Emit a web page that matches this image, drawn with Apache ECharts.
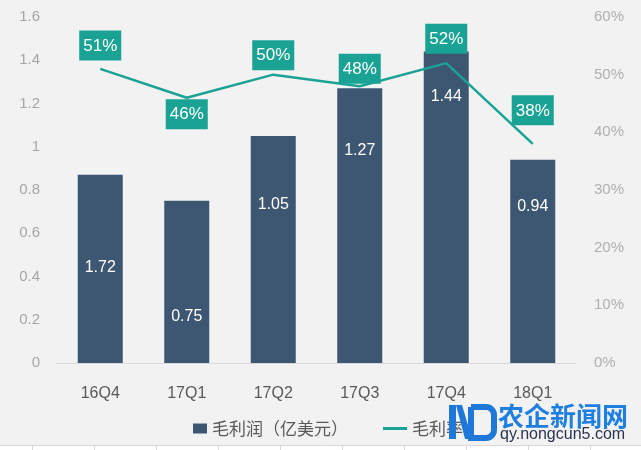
<!DOCTYPE html>
<html>
<head>
<meta charset="utf-8">
<script src="https://cdn.jsdelivr.net/npm/echarts@6/dist/echarts.min.js"></script>
<style>
html,body{margin:0;padding:0;background:#f2f2f2;}
#chart{width:641px;height:450px;}
</style>
</head>
<body>
<div id="chart"></div>
<script>
// ---- data ----
const categories = ['16Q4', '17Q1', '17Q2', '17Q3', '17Q4', '18Q1'];
const grossProfit = [0.87, 0.75, 1.05, 1.27, 1.44, 0.94];          // bar heights (亿美元)
const grossProfitLabels = ['1.72', '0.75', '1.05', '1.27', '1.44', '0.94']; // labels as printed
const grossMargin = [0.51, 0.46, 0.50, 0.48, 0.52, 0.38];
const marginLabels = ['51%', '46%', '50%', '48%', '52%', '38%'];
const leftTicks = { min: 0, max: 1.6, interval: 0.2 };
const rightTicks = { min: 0, max: 0.6, interval: 0.1 };
const barName = '毛利润（亿美元）';
const lineName = '毛利率';

// ---- styling (label placement tweaks as in the original) ----
const barLabelDist = [85, 108, 61, 54, 37, 39];
const lineLabelPos = ['top', 'bottom', 'top', 'top', 'top', 'top'];
const lineLabelDist = [8, 1, 4, 2, 9, 18];

const BAR = '#3d5672';
const TEAL = '#1aa394';
const CN = '"Noto Sans CJK SC", "Liberation Sans", sans-serif';
const NUM = '"Liberation Sans", Arial, sans-serif';

const chart = echarts.init(document.getElementById('chart'), null, {renderer: 'canvas'});

const barData = grossProfit.map((v, i) => ({
  value: v,
  label: { distance: barLabelDist[i], formatter: grossProfitLabels[i] }
}));
const lineData = grossMargin.map((v, i) => ({
  value: v,
  label: { position: lineLabelPos[i], distance: lineLabelDist[i], formatter: marginLabels[i] }
}));

// bottom spreadsheet grid lines
const gridLines = [{
  type: 'rect', silent: true, z: 0,
  shape: {x: 0, y: 445, width: 641, height: 5},
  style: {fill: '#ffffff'}
}, {
  type: 'line', silent: true, z: 0,
  shape: {x1: 0, y1: 445.5, x2: 641, y2: 445.5},
  style: {stroke: '#d9d9d9', lineWidth: 1}
}];
for (let x = 32; x < 641; x += 62) {
  gridLines.push({
    type: 'line', silent: true, z: 0,
    shape: {x1: x + 0.5, y1: 445, x2: x + 0.5, y2: 450},
    style: {stroke: '#d9d9d9', lineWidth: 1}
  });
}

const logo = [
  { type: 'polygon', z: 100, shape: {points: [[449,405],[456,405],[456,439],[449,439]]}, style: {fill: '#1e78d8'} },
  { type: 'polygon', z: 100, shape: {points: [[456,405],[462,405],[470,432],[470,439],[465,439]]}, style: {fill: '#1e78d8'} },
  { type: 'rect', z: 100, shape: {x: 471, y: 407, width: 23, height: 31, r: [0, 8, 8, 0]}, style: {fill: 'none', stroke: '#1e78d8', lineWidth: 6} },
  { type: 'text', z: 100, style: {x: 498, y: 403, text: '农企新闻网', font: 'bold 26px "Noto Sans CJK SC", sans-serif', fill: '#1f7fe0'} },
  { type: 'text', z: 100, style: {x: 500, y: 427, text: 'qy.nongcun5.com', font: '16px "Liberation Sans", Arial, sans-serif', fill: '#2b3550'} }
];

chart.setOption({
  backgroundColor: '#f2f2f2',
  animation: false,
  grid: { left: 57, right: 65, top: 17, bottom: 87 },
  legend: [{
    data: [{ name: barName, icon: 'rect' }], left: 188, top: 415, itemWidth: 14, itemHeight: 10,
    textStyle: { fontSize: 17, color: '#595959', fontFamily: CN }
  }, {
    data: [{ name: lineName, icon: 'rect', itemStyle: { color: TEAL, opacity: 1 } }],
    left: 378, top: 415, itemWidth: 24, itemHeight: 3,
    textStyle: { fontSize: 17, color: '#595959', fontFamily: CN }
  }],
  xAxis: {
    type: 'category', data: categories,
    axisLine: { lineStyle: { color: '#d9d9d9' } },
    axisTick: { show: false },
    axisLabel: { color: '#595959', fontSize: 16, fontFamily: NUM, margin: 23 }
  },
  yAxis: [{
    type: 'value', min: leftTicks.min, max: leftTicks.max, interval: leftTicks.interval,
    splitLine: { show: false }, axisLine: { show: false }, axisTick: { show: false },
    axisLabel: { color: '#a6a6a6', fontSize: 15, fontFamily: NUM, margin: 17,
      formatter: v => String(Math.round(v * 10) / 10) }
  }, {
    type: 'value', min: rightTicks.min, max: rightTicks.max, interval: rightTicks.interval,
    splitLine: { show: false }, axisLine: { show: false }, axisTick: { show: false },
    axisLabel: { color: '#b0b0b0', fontSize: 15, fontFamily: NUM, margin: 18,
      formatter: v => Math.round(v * 100) + '%' }
  }],
  series: [{
    name: barName, type: 'bar', data: barData, barWidth: 45, yAxisIndex: 0,
    itemStyle: { color: BAR },
    label: { show: true, position: 'insideTop', color: '#ffffff', fontSize: 16, fontFamily: NUM }
  }, {
    name: lineName, type: 'line', data: lineData, yAxisIndex: 1,
    symbol: 'circle', symbolSize: 1, showSymbol: true, z: 5,
    lineStyle: { color: TEAL, width: 2.5 },
    itemStyle: { color: 'rgba(0,0,0,0)', borderWidth: 0 },
    label: { show: true, color: '#ffffff', fontSize: 17, fontFamily: NUM, opacity: 1,
      backgroundColor: TEAL, padding: [7, 4, 6, 4] }
  }],
  graphic: gridLines.concat(logo)
});
</script>
</body>
</html>
